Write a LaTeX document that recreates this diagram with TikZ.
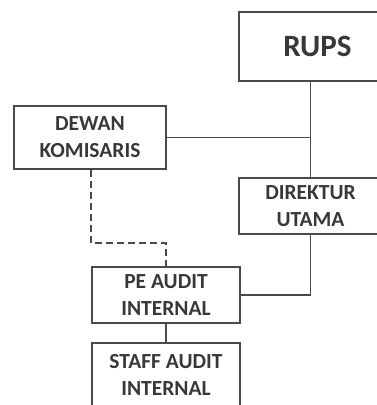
\documentclass[tikz,border=0pt]{standalone}
\usepackage{fontspec}
\setmainfont{Carlito}
\usetikzlibrary{positioning}

\definecolor{inkgray}{HTML}{383838}
\definecolor{linegray}{HTML}{4A4A4A}

\tikzset{
    unit/.style={draw=linegray, line width=1.6pt, text=inkgray, align=center,
        inner sep=0pt, font=\bfseries\fontsize{21.5}{27}\selectfont},
    link/.style={draw=linegray, line width=1.6pt},
    dottedlink/.style={link, dash pattern=on 7pt off 4pt}
}

\begin{document}
\begin{tikzpicture}[x=1pt,y=-1pt]
    \useasboundingbox (0,0) rectangle (377,405);

    % Boxes
    \node[unit, minimum width=157pt, minimum height=69pt,
        font=\bfseries\fontsize{31}{34}\selectfont] (rups) at (317.5,46.5) {RUPS};
    \node[unit, minimum width=152pt, minimum height=63pt] (dewan) at (90,137.5) {DEWAN\\KOMISARIS};
    \node[unit, minimum width=143pt, minimum height=56pt] (direktur) at (310.5,206) {DIREKTUR\\UTAMA};
    \node[unit, minimum width=148pt, minimum height=56pt] (pe) at (166,295) {PE AUDIT\\INTERNAL};
    \node[unit, minimum width=148pt, minimum height=64pt] (staff) at (166,375) {STAFF AUDIT\\INTERNAL};

    % Lines
    \draw[link] (rups.south -| direktur.north) -- (direktur.north);
    \draw[link] (dewan.east) -- (dewan.east -| direktur.north);
    \draw[link] (direktur.south) |- (pe.east);
    \draw[link] (pe.south) -- (staff.north);

    % Dashed line
    \draw[dottedlink] (pe.west |- dewan.south) |- ([yshift=23pt]pe.north) -- (pe.north);
\end{tikzpicture}
\end{document}
